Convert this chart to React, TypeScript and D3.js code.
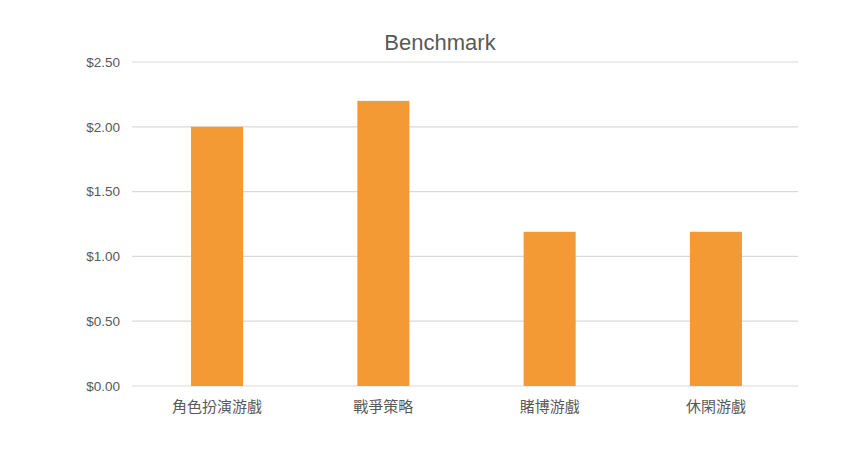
import { useEffect, useRef } from "react";
import * as d3 from "d3";

const categories = ["角色扮演游戲", "戰爭策略", "賭博游戲", "休閑游戲"];
const values = [2.0, 2.2, 1.19, 1.19];
const yTicks = [0, 0.5, 1.0, 1.5, 2.0, 2.5];

const W = 864;
const H = 454;
const margin = { top: 62, right: 66, bottom: 68, left: 132 };

export default function App() {
  const svgRef = useRef<SVGSVGElement | null>(null);

  useEffect(() => {
    if (!svgRef.current) return;
    const svg = d3.select(svgRef.current);
    svg.selectAll("*").remove();

    const x = d3
      .scaleBand()
      .domain(categories)
      .range([margin.left + 2, W - margin.right + 1])
      .paddingInner(0.687)
      .paddingOuter(0.343);
    const y = d3
      .scaleLinear()
      .domain([0, 2.5])
      .range([H - margin.bottom, margin.top]);

    svg
      .append("text")
      .attr("x", 440)
      .attr("y", 50)
      .attr("text-anchor", "middle")
      .attr("font-size", 22)
      .attr("fill", "#595959")
      .text("Benchmark");

    const grid = svg.append("g");
    grid
      .selectAll("line")
      .data(yTicks)
      .enter()
      .append("line")
      .attr("x1", margin.left)
      .attr("x2", W - margin.right)
      .attr("y1", (d) => y(d))
      .attr("y2", (d) => y(d))
      .attr("stroke", "#d9d9d9")
      .attr("stroke-width", 1.2);

    grid
      .selectAll("text")
      .data(yTicks)
      .enter()
      .append("text")
      .attr("x", 120)
      .attr("y", (d) => y(d))
      .attr("dy", "0.35em")
      .attr("text-anchor", "end")
      .attr("font-size", 13.5)
      .attr("fill", "#595959")
      .text((d) => d3.format("$.2f")(d));

    svg
      .append("g")
      .selectAll("rect")
      .data(values)
      .enter()
      .append("rect")
      .attr("x", (_d, i) => x(categories[i]) ?? 0)
      .attr("width", x.bandwidth())
      .attr("y", (d) => y(d))
      .attr("height", (d) => y(0) - y(d))
      .attr("fill", "#f39a34");

    svg
      .append("g")
      .selectAll("text")
      .data(categories)
      .enter()
      .append("text")
      .attr("x", (d) => (x(d) ?? 0) + x.bandwidth() / 2)
      .attr("y", 412)
      .attr("text-anchor", "middle")
      .attr("font-size", 15)
      .attr("fill", "#595959")
      .attr("font-family", "'Noto Sans CJK TC', sans-serif")
      .text((d) => d);
  }, []);

  return (
    <svg
      ref={svgRef}
      width={W}
      height={H}
      style={{ display: "block", position: "absolute", left: 0, top: 0, background: "#fff", fontFamily: "'Liberation Sans', Arial, sans-serif" }}
    />
  );
}
